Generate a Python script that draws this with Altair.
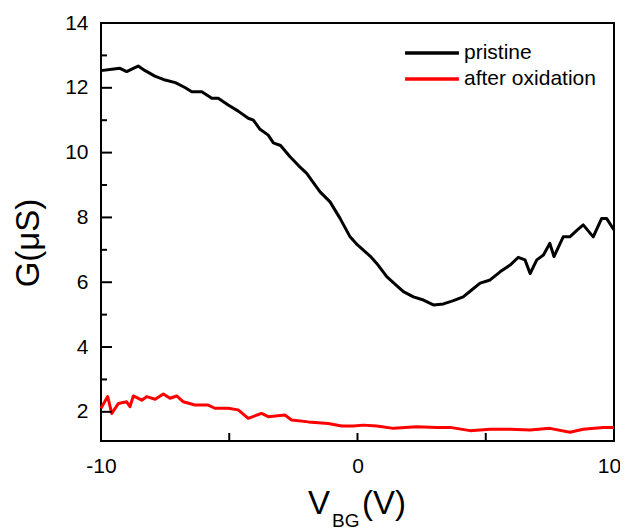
import altair as alt
import pandas as pd

# ---- data ----
v_pristine = [-10.0, -9.58, -9.26, -9.0, -8.74, -8.55, -8.28, -7.9, -7.5, -7.1, -6.73, -6.46,
              -6.07, -5.68, -5.43, -5.04, -4.65, -4.26, -4.06, -3.8, -3.48, -3.28, -3.0, -2.63,
              -2.3, -1.98, -1.7, -1.46, -1.07, -0.68, -0.29, 0.0, 0.23, 0.5, 0.75, 1.14, 1.45,
              1.79, 2.18, 2.57, 2.96, 3.35, 3.74, 4.12, 4.45, 4.78, 5.17, 5.56, 5.95, 6.27,
              6.53, 6.73, 6.99, 7.25, 7.5, 7.66, 8.02, 8.28, 8.55, 8.8, 9.19, 9.52, 9.71, 10.0]
g_pristine = [12.53, 12.57, 12.60, 12.50, 12.60, 12.67, 12.53, 12.36, 12.24, 12.16, 12.01, 11.88,
              11.88, 11.68, 11.68, 11.47, 11.28, 11.06, 11.0, 10.72, 10.54, 10.30, 10.22, 9.87,
              9.6, 9.36, 9.05, 8.79, 8.48, 7.97, 7.40, 7.15, 6.99, 6.8, 6.58, 6.17, 5.95,
              5.71, 5.55, 5.45, 5.30, 5.33, 5.43, 5.55, 5.76, 5.97, 6.07, 6.32, 6.53, 6.77,
              6.69, 6.27, 6.69, 6.84, 7.20, 6.79, 7.40, 7.40, 7.6, 7.77, 7.40, 7.97, 7.97, 7.61]

v_oxid = [-10.0, -9.74, -9.58, -9.32, -9.0, -8.87, -8.74, -8.41, -8.22, -7.89, -7.57, -7.31,
          -7.05, -6.79, -6.34, -5.82, -5.56, -5.04, -4.65, -4.26, -3.74, -3.48, -2.83, -2.57,
          -1.92, -1.14, -0.62, -0.16, 0.23, 0.75, 1.40, 2.31, 3.09, 3.61, 4.39, 5.17, 5.95,
          6.73, 7.50, 8.28, 8.80, 9.58, 10.0]
g_oxid = [2.11, 2.47, 1.95, 2.26, 2.31, 2.16, 2.49, 2.36, 2.47, 2.39, 2.55, 2.42,
          2.49, 2.31, 2.21, 2.21, 2.11, 2.11, 2.06, 1.80, 1.95, 1.85, 1.90, 1.75,
          1.69, 1.64, 1.56, 1.56, 1.59, 1.56, 1.49, 1.54, 1.52, 1.52, 1.42, 1.46, 1.46,
          1.44, 1.49, 1.37, 1.46, 1.52, 1.52]

series_names = ["pristine", "after oxidation"]
series_colors = ["#000000", "#ff0000"]

x_label_values = [-10, 0, 10]
x_tick_values = [-5, 0, 5]
y_major_values = [2, 4, 6, 8, 10, 12, 14]
y_minor_values = [3, 5, 7, 9, 11, 13]

y_title = ["G(μS)"]
x_title_main = ["V"]
x_title_sub = ["BG"]
x_title_tail = ["(V)"]

FONT = "Liberation Sans"

df = pd.concat([
    pd.DataFrame({"V": v_pristine, "G": g_pristine, "series": series_names[0]}),
    pd.DataFrame({"V": v_oxid, "G": g_oxid, "series": series_names[1]}),
])

xscale = alt.Scale(domain=[-10, 10], nice=False, zero=False)
yscale = alt.Scale(domain=[1.1, 14], nice=False, zero=False)

hyphen_labels = "datum.value < 0 ? '-' + abs(datum.value) : '' + datum.value"

x_axis = alt.Axis(values=x_label_values, title=None, grid=False, ticks=False,
                  domain=False, labelFontSize=21, labelFont=FONT, labelColor="black",
                  labelPadding=14, labelFlush=False, labelExpr=hyphen_labels,
                  labelOffset={"condition": {"test": "datum.value == 10", "value": -5}, "value": 0})
y_axis = alt.Axis(values=y_major_values, title=None, grid=False, ticks=False,
                  domain=False, labelFontSize=21, labelFont=FONT, labelColor="black",
                  labelPadding=13, labelFlush=False)

lines = alt.Chart(df).mark_line(strokeWidth=3, strokeJoin="round").encode(
    x=alt.X("V:Q", scale=xscale, axis=x_axis),
    y=alt.Y("G:Q", scale=yscale, axis=y_axis),
    color=alt.Color("series:N",
                    scale=alt.Scale(domain=series_names, range=series_colors),
                    sort=series_names,
                    legend=alt.Legend(title=None, orient="none", legendX=302, legendY=20,
                                      symbolType="stroke", symbolSize=2900, symbolStrokeWidth=3.5,
                                      clipHeight=20, labelFontSize=21, labelFont=FONT,
                                      labelColor="black", labelOffset=3, rowPadding=5, padding=0)),
    detail="series:N",
)

ymaj = alt.Chart(pd.DataFrame({"t": y_major_values})).mark_rule(color="black", strokeWidth=2).encode(
    y=alt.Y("t:Q", scale=yscale, axis=y_axis), x=alt.value(0), x2=alt.value(11))
ymin = alt.Chart(pd.DataFrame({"t": y_minor_values})).mark_rule(color="black", strokeWidth=2).encode(
    y=alt.Y("t:Q", scale=yscale, axis=y_axis), x=alt.value(0), x2=alt.value(6))
xmaj = alt.Chart(pd.DataFrame({"t": x_tick_values})).mark_rule(color="black", strokeWidth=2).encode(
    x=alt.X("t:Q", scale=xscale, axis=x_axis), y=alt.value(418), y2=alt.value(410))

ytitle = alt.Chart(pd.DataFrame({"t": y_title})).mark_text(
    angle=270, fontSize=33, font=FONT, align="center", baseline="alphabetic", color="black"
).encode(x=alt.value(-62), y=alt.value(220), text="t:N")

xt1 = alt.Chart(pd.DataFrame({"t": x_title_main})).mark_text(
    fontSize=33, font=FONT, align="left", baseline="alphabetic", color="black"
).encode(x=alt.value(207), y=alt.value(491), text="t:N")
xt2 = alt.Chart(pd.DataFrame({"t": x_title_sub})).mark_text(
    fontSize=19, font=FONT, align="left", baseline="alphabetic", color="black"
).encode(x=alt.value(231), y=alt.value(504), text="t:N")
xt3 = alt.Chart(pd.DataFrame({"t": x_title_tail})).mark_text(
    fontSize=33, font=FONT, align="left", baseline="alphabetic", color="black"
).encode(x=alt.value(261), y=alt.value(491), text="t:N")

chart = alt.layer(lines, ymaj, ymin, xmaj, ytitle, xt1, xt2, xt3).properties(
    width=513, height=418,
    background="white",
    autosize=alt.AutoSizeParams(type="none"),
    padding={"left": 93, "top": 15, "right": 6, "bottom": 100},
).configure_view(stroke="black", strokeWidth=2)

chart.save("out.html", embed_options={"renderer": "svg", "actions": False})
